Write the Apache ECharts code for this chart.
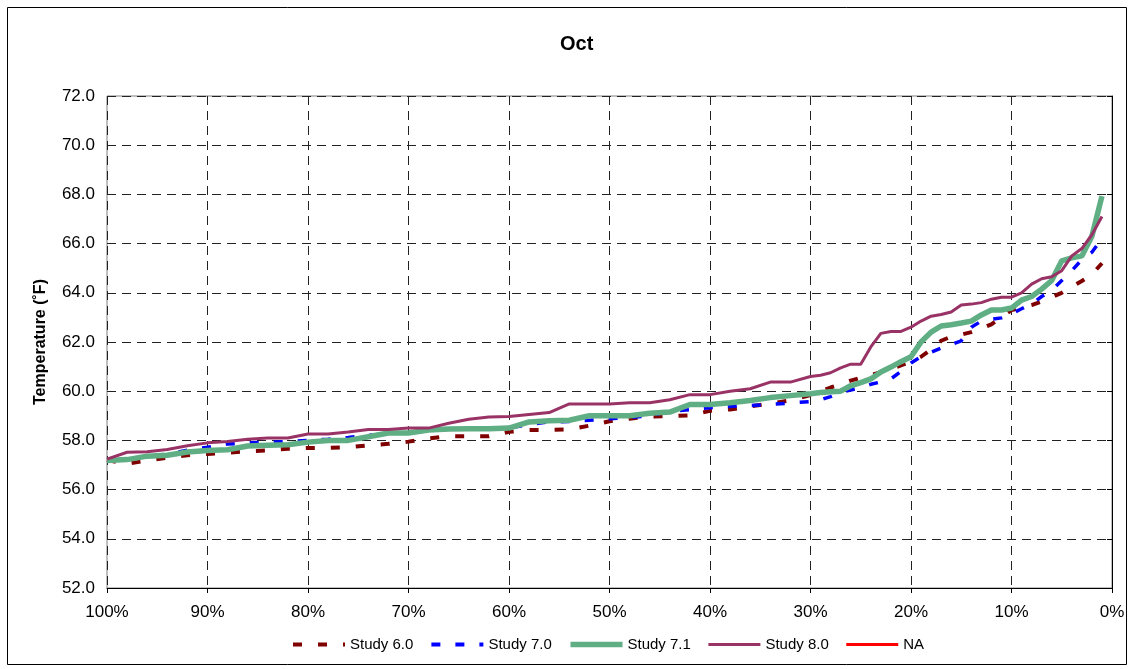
<!DOCTYPE html>
<html>
<head>
<meta charset="utf-8">
<title>Oct</title>
<script src="https://cdn.jsdelivr.net/npm/echarts@6/dist/echarts.min.js"></script>
<style>
  html, body { margin: 0; padding: 0; background: #fff; }
  #chart { width: 1133px; height: 669px; }
</style>
</head>
<body>
<div id="chart"></div>
<script>
// exceedance percent (x) shared by all studies
var pct = [100, 98, 96, 94, 92, 90, 88, 86, 84, 82, 80, 78, 76, 74, 72, 70, 68, 66, 64, 62,
  60, 58, 56, 54, 52, 50, 48, 46, 44, 42, 40, 38, 36, 34, 32,
  30, 29, 28, 27, 26, 25, 24, 23, 22, 21, 20, 19, 18, 17, 16, 15, 14, 13, 12, 11,
  10, 9, 8, 7, 6, 5, 4, 3, 2, 1];

var study60 = [57.2, 57.05, 57.18, 57.3, 57.4, 57.45, 57.5, 57.56, 57.59, 57.66, 57.69, 57.7, 57.72, 57.8, 57.86, 57.95, 58.08, 58.17, 58.17, 58.17,
  58.35, 58.42, 58.42, 58.45, 58.6, 58.78, 58.88, 58.97, 58.99, 59.02, 59.2, 59.26, 59.38, 59.5, 59.63,
  59.84, 60.0, 60.15, 60.28, 60.43, 60.55, 60.65, 60.77, 60.9, 61.05, 61.2, 61.4, 61.7, 62.05, 62.22, 62.3, 62.4, 62.55, 62.72, 63.0,
  63.3, 63.4, 63.5, 63.65, 63.82, 64.0, 64.25, 64.48, 64.75, 65.2];

var study70 = [57.18, 57.22, 57.35, 57.45, 57.6, 57.72, 57.85, 57.9, 57.92, 57.96, 58.0, 58.05, 58.12, 58.2, 58.28, 58.32, 58.4, 58.45, 58.45, 58.47,
  58.5, 58.65, 58.75, 58.77, 58.82, 58.88, 58.93, 59.0, 59.18, 59.25, 59.33, 59.38, 59.42, 59.46, 59.52,
  59.58, 59.65, 59.78, 59.95, 60.05, 60.15, 60.28, 60.38, 60.5, 60.8, 61.15, 61.4, 61.58, 61.75, 61.9, 62.05, 62.6, 62.85, 62.92, 62.98,
  63.15, 63.35, 63.55, 63.85, 64.1, 64.5, 64.9, 65.35, 65.65, 66.2];

var study71 = [57.18, 57.22, 57.36, 57.4, 57.53, 57.59, 57.62, 57.77, 57.8, 57.82, 57.93, 58.0, 58.0, 58.15, 58.3, 58.3, 58.42, 58.46, 58.47, 58.47,
  58.5, 58.75, 58.8, 58.82, 59.0, 59.0, 59.0, 59.1, 59.15, 59.46, 59.46, 59.53, 59.62, 59.74, 59.82,
  59.9, 59.95, 59.98, 60.0, 60.22, 60.35, 60.5, 60.78, 60.98, 61.2, 61.4, 62.0, 62.4, 62.65, 62.7, 62.77, 62.85, 63.1, 63.3, 63.3,
  63.38, 63.7, 63.85, 64.15, 64.5, 65.3, 65.42, 65.5, 66.3, 67.93];

var study80 = [57.24, 57.52, 57.54, 57.63, 57.78, 57.9, 57.96, 58.05, 58.1, 58.1, 58.26, 58.26, 58.34, 58.44, 58.44, 58.5, 58.5, 58.7, 58.86, 58.95,
  58.97, 59.05, 59.13, 59.48, 59.48, 59.48, 59.53, 59.53, 59.65, 59.86, 59.86, 60.0, 60.1, 60.37, 60.37,
  60.6, 60.65, 60.75, 60.95, 61.1, 61.1, 61.8, 62.35, 62.43, 62.43, 62.6, 62.85, 63.05, 63.12, 63.22, 63.5, 63.54, 63.6, 63.74, 63.82,
  63.82, 64.0, 64.35, 64.57, 64.65, 64.9, 65.5, 65.8, 66.36, 67.1];

var studyNA = [];

var xTicks = { min: 0, max: 100, step: 10 };
var yTicks = { min: 52, max: 72, step: 2 };

function pairs(vals) {
  return vals.map(function (v, i) { return [pct[i], v]; });
}

var font = "'Liberation Sans', Arial, sans-serif";
var chart = echarts.init(document.getElementById('chart'));

var option = {
  animation: false,
  backgroundColor: '#fff',
  title: {
    text: 'Oct',
    left: 555,
    top: 29,
    textStyle: { fontFamily: font, fontSize: 20, fontWeight: 'bold', color: '#000' }
  },
  graphic: [{
    type: 'rect',
    shape: { x: 7.5, y: 7.5, width: 1119, height: 657 },
    style: { fill: null, stroke: '#000', lineWidth: 1 },
    silent: true
  }],
  legend: {
    left: 286,
    top: 632,
    itemWidth: 52,
    itemHeight: 14,
    itemGap: 16,
    itemStyle: { opacity: 0 },
    textStyle: { fontFamily: font, fontSize: 15, color: '#000' },
    data: [
      { name: 'Study 6.0', lineStyle: { width: 4, type: [9, 16] } },
      { name: 'Study 7.0', lineStyle: { width: 4, type: [9, 15] } },
      { name: 'Study 7.1', lineStyle: { width: 5.5 } },
      { name: 'Study 8.0', lineStyle: { width: 3 } },
      { name: 'NA', lineStyle: { width: 3 } }
    ]
  },
  grid: {
    left: 107, right: 21, top: 96, bottom: 81,
    show: true, borderColor: '#808080', borderWidth: 1, backgroundColor: '#fff'
  },
  xAxis: {
    type: 'value',
    inverse: true,
    min: xTicks.min, max: xTicks.max, interval: xTicks.step,
    axisLine: { show: true, lineStyle: { color: '#000', width: 1 } },
    axisTick: { show: true, length: 5, lineStyle: { color: '#000' } },
    axisLabel: {
      formatter: '{value}%', fontFamily: font, fontSize: 17, color: '#000', margin: 16,
      showMinLabel: true, showMaxLabel: true
    },
    splitLine: { show: true, lineStyle: { color: '#222', type: [9, 6], width: 1 } }
  },
  yAxis: {
    type: 'value',
    min: yTicks.min, max: yTicks.max, interval: yTicks.step,
    name: 'Temperature (˚F)',
    nameLocation: 'middle',
    nameGap: 58,
    nameTextStyle: { fontFamily: font, fontSize: 16, fontWeight: 'bold', color: '#000' },
    axisLine: { show: true, lineStyle: { color: '#000', width: 1 } },
    axisTick: { show: true, length: 5, lineStyle: { color: '#000' } },
    axisLabel: {
      formatter: function (v) { return v.toFixed(1); },
      fontFamily: font, fontSize: 17, color: '#000', margin: 12
    },
    splitLine: { show: true, lineStyle: { color: '#222', type: [9, 6], width: 1 } }
  },
  series: [
    {
      name: 'Study 6.0', type: 'line', symbol: 'none', data: pairs(study60),
      itemStyle: { color: '#800000' },
      lineStyle: { color: '#800000', width: 4, type: [9, 16] }
    },
    {
      name: 'Study 7.0', type: 'line', symbol: 'none', data: pairs(study70),
      itemStyle: { color: '#0000ff' },
      lineStyle: { color: '#0000ff', width: 3.5, type: [9, 15] }
    },
    {
      name: 'Study 7.1', type: 'line', symbol: 'none', data: pairs(study71),
      itemStyle: { color: '#5fae84' },
      lineStyle: { color: '#5fae84', width: 5.5 }
    },
    {
      name: 'Study 8.0', type: 'line', symbol: 'none', data: pairs(study80),
      itemStyle: { color: '#993366' },
      lineStyle: { color: '#993366', width: 3 }
    },
    {
      name: 'NA', type: 'line', symbol: 'none', data: pairs(studyNA),
      itemStyle: { color: '#ff0000' },
      lineStyle: { color: '#ff0000', width: 3 }
    }
  ]
};

chart.setOption(option);
</script>
</body>
</html>
